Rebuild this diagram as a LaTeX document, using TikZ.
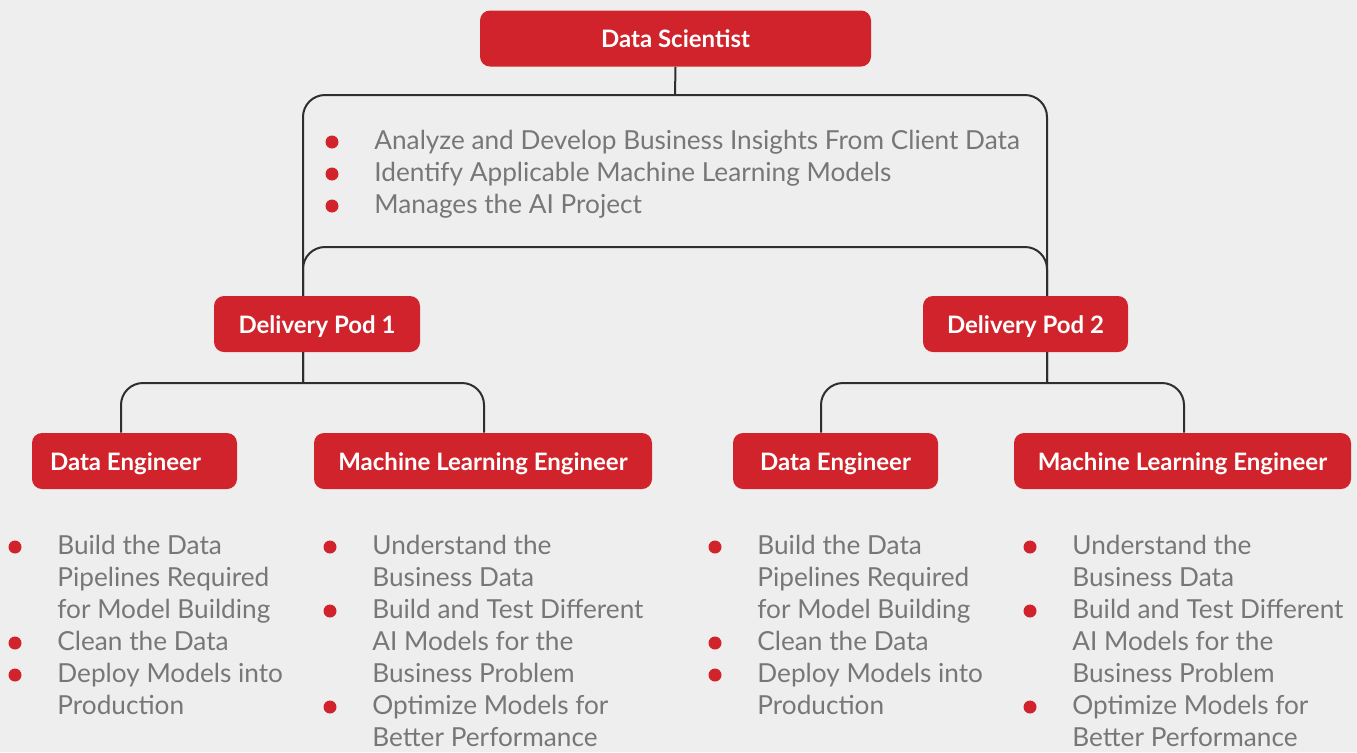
\documentclass[tikz,border=0pt]{standalone}
\usepackage{fontspec}
\setmainfont{Lato}
\usetikzlibrary{backgrounds}

\definecolor{brandred}{HTML}{D1232B}
\definecolor{pagegray}{HTML}{EEEEEE}
\definecolor{linegray}{HTML}{2E2E2E}
\definecolor{textgray}{HTML}{777777}

\tikzstyle{red_box} = [
    rectangle,
    rounded corners=5pt,
    fill=brandred,
    text=white,
    font=\fontsize{12}{14}\selectfont\bfseries,
    align=center,
    inner sep=0pt,
    text height=9.6pt,
    text depth=0.6pt,
    minimum height=28pt % all boxes share one height
]
\tikzstyle{duty_list} = [
    anchor=north west,
    inner sep=0pt,
    align=left,
    text=textgray,
    font=\fontsize{13.1}{16}\selectfont
]
\tikzstyle{link} = [
    draw=linegray,
    line width=1pt,
    rounded corners=11pt
]

\begin{document}
\begin{tikzpicture}[x=0.5pt, y=-0.5pt]
\useasboundingbox (0,0) rectangle (1357,752);

% roles
\node [red_box, minimum width=195.5pt] (scientist) at (675.5,38.5) {Data Scientist};
\node [red_box, minimum width=103pt] (pod_1) at (317,324) {Delivery Pod 1};
\node [red_box, minimum width=102.5pt] (pod_2) at (1025.5,324) {Delivery Pod 2};
\node [red_box, minimum width=102.5pt] (eng_1) at (134.5,461) {Data Engineer\kern9pt};
\node [red_box, minimum width=169pt] (mle_1) at (483,461) {Machine Learning Engineer};
\node [red_box, minimum width=102.5pt] (eng_2) at (835.5,461) {Data Engineer};
\node [red_box, minimum width=168.5pt] (mle_2) at (1182.5,461) {Machine Learning Engineer};

% duties
\node [duty_list] (scientist_duties) at (374,130) {Analyze and Develop Business Insights From Client Data\\
    Identify Applicable Machine Learning Models\\
    Manages the AI Project};
\node [duty_list] (eng_1_duties) at (57,535) {Build the Data\\
    Pipelines Required\\
    for Model Building\\
    Clean the Data\\
    Deploy Models into\\
    Production};
\node [duty_list] (mle_1_duties) at (372,535) {Understand the\\
    Business Data\\
    Build and Test Different\\
    AI Models for the\\
    Business Problem\\
    Optimize Models for\\
    Better Performance};
\node [duty_list] (eng_2_duties) at (757,535) {Build the Data\\
    Pipelines Required\\
    for Model Building\\
    Clean the Data\\
    Deploy Models into\\
    Production};
\node [duty_list] (mle_2_duties) at (1072,535) {Understand the\\
    Business Data\\
    Build and Test Different\\
    AI Models for the\\
    Business Problem\\
    Optimize Models for\\
    Better Performance};

\foreach \dx/\dy in {332/142, 332/174, 332/206,
        15/547, 15/643, 15/675, 330/547, 330/611, 330/707,
        715/547, 715/643, 715/675, 1030/547, 1030/611, 1030/707}
    \fill [brandred] (\dx,\dy) circle (3.25pt);

% connectors
\coordinate (top_bar) at (675,95);
\coordinate (mid_bar) at (675,247);
\coordinate (rail_1) at (303,383);
\coordinate (rail_2) at (1047,383);
\begin{scope}[on background layer]
\fill [pagegray] (0,0) rectangle (1357,752);
\draw [link] (scientist.south) -- (top_bar);
\draw [link] (rail_1) |- (top_bar) -| (rail_2);
\draw [link] (rail_1) |- (mid_bar) -| (rail_2);
\draw [link] ([xshift=-6.75pt]eng_1.north) |- (rail_1) -| ([xshift=0.5pt]mle_1.north);
\draw [link] ([xshift=-7.25pt]eng_2.north) |- (rail_2) -| ([xshift=0.75pt]mle_2.north);
\end{scope}
\end{tikzpicture}
\end{document}
